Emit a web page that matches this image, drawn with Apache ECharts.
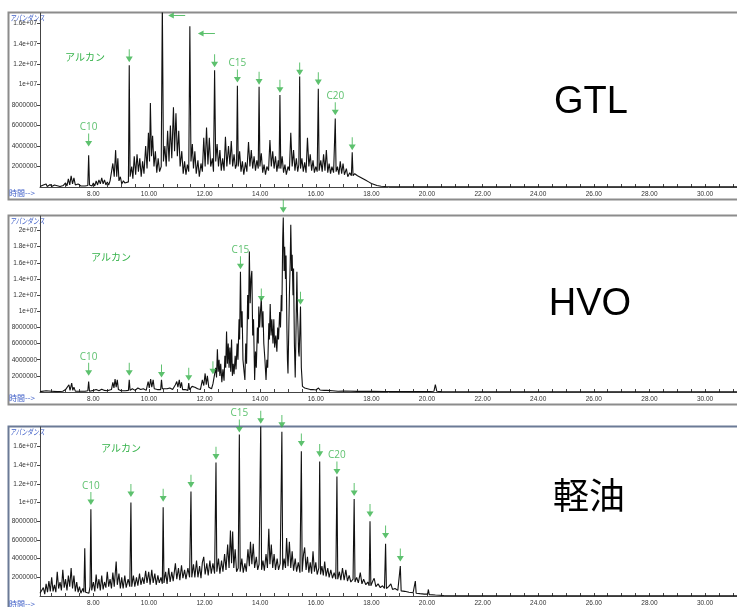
<!DOCTYPE html>
<html><head><meta charset="utf-8">
<script src="https://cdn.jsdelivr.net/npm/echarts@6/dist/echarts.min.js"></script>
<style>html,body{margin:0;padding:0;background:#fff}#c{width:737px;height:607px}</style>
</head><body><div id="c"></div>
<script>
// ---------- data (time in min, abundance in millions) ----------
const timeLabels = [8,10,12,14,16,18,20,22,24,26,28,30];
const timeTicks = [6.5,7,7.5,8,8.5,9,9.5,10,10.5,11,11.5,12,12.5,13,13.5,14,14.5,15,15.5,16,16.5,17,17.5,18,18.5,19,19.5,20,20.5,21,21.5,22,22.5,23,23.5,24,24.5,25,25.5,26,26.5,27,27.5,28,28.5,29,29.5,30,30.5,31];
const gtlYLabels = [2000000,4000000,6000000,8000000,10000000,12000000,14000000,16000000];
const hvoYLabels = [2000000,4000000,6000000,8000000,10000000,12000000,14000000,16000000,18000000,20000000];
const dieselYLabels = [2000000,4000000,6000000,8000000,10000000,12000000,14000000,16000000];
const sampleNames = ['GTL','HVO','軽油'];

const gtlTrace = [[6.08,0.05],[6.2,0.2],[6.24,0.05],[6.3,0.3],[6.34,0.05],[6.45,0.25],[6.5,0.05],[6.6,0.2],[6.65,0.05],[6.8,0.05],[6.92,0.15],[7.0,0.4],[7.05,0.1],[7.1,0.8],[7.15,0.2],[7.2,1.1],[7.25,0.3],[7.3,0.9],[7.35,0.2],[7.45,0.3],[7.55,0.1],[7.7,0.1],[7.8,0.15],[7.83,3.1],[7.86,0.2],[7.95,0.1],[8.0,0.4],[8.05,0.1],[8.1,0.6],[8.15,0.2],[8.2,0.7],[8.25,0.3],[8.3,0.9],[8.35,0.3],[8.4,0.7],[8.45,0.2],[8.5,0.5],[8.55,0.2],[8.6,0.6],[8.65,0.5],[8.7,2.3],[8.75,1.0],[8.8,3.6],[8.84,1.0],[8.88,2.8],[8.92,0.6],[8.97,1.0],[9.02,0.3],[9.08,0.6],[9.13,0.4],[9.2,0.3],[9.26,0.5],[9.29,11.9],[9.32,1.0],[9.38,2.0],[9.42,0.8],[9.47,3.0],[9.52,1.2],[9.57,3.2],[9.62,1.5],[9.67,2.8],[9.72,1.0],[9.77,2.5],[9.82,1.3],[9.88,4.0],[9.93,1.8],[9.98,5.3],[10.02,2.5],[10.05,8.2],[10.09,3.0],[10.13,5.0],[10.18,2.0],[10.23,3.5],[10.28,1.4],[10.33,2.8],[10.38,1.5],[10.44,2.0],[10.48,18.0],[10.52,2.5],[10.57,4.0],[10.62,2.0],[10.67,5.5],[10.72,2.5],[10.77,6.0],[10.82,2.8],[10.88,7.8],[10.92,3.5],[10.97,7.2],[11.02,3.0],[11.07,5.5],[11.12,2.0],[11.18,3.5],[11.23,1.3],[11.28,2.5],[11.33,1.2],[11.38,2.2],[11.43,1.5],[11.47,15.7],[11.51,2.5],[11.56,4.2],[11.6,1.8],[11.65,3.5],[11.7,1.3],[11.76,2.6],[11.81,1.0],[11.87,2.3],[11.92,1.5],[11.97,4.8],[12.02,2.0],[12.07,5.8],[12.12,2.2],[12.17,4.8],[12.22,2.0],[12.28,2.8],[12.32,1.5],[12.36,11.4],[12.4,2.5],[12.45,4.2],[12.5,2.0],[12.55,3.6],[12.6,1.6],[12.65,2.8],[12.7,1.6],[12.75,4.9],[12.8,2.0],[12.86,4.0],[12.91,2.2],[12.96,4.5],[13.01,2.0],[13.06,3.2],[13.11,1.8],[13.15,2.2],[13.18,9.9],[13.21,2.0],[13.26,3.5],[13.31,1.5],[13.36,2.5],[13.41,1.2],[13.47,2.4],[13.52,1.5],[13.58,4.4],[13.63,2.0],[13.68,3.6],[13.73,1.8],[13.78,3.0],[13.83,1.6],[13.88,2.6],[13.93,1.8],[13.96,9.8],[13.99,2.0],[14.04,3.3],[14.09,1.4],[14.14,2.2],[14.19,1.2],[14.24,2.0],[14.3,1.6],[14.35,4.6],[14.4,2.0],[14.45,3.5],[14.5,1.8],[14.55,3.0],[14.6,1.5],[14.65,2.6],[14.68,1.8],[14.71,9.0],[14.74,1.8],[14.79,3.0],[14.84,1.4],[14.89,2.2],[14.94,1.2],[15.0,2.0],[15.05,1.6],[15.1,5.3],[15.15,2.0],[15.2,3.6],[15.25,1.6],[15.3,2.8],[15.35,1.5],[15.39,2.2],[15.42,10.8],[15.45,1.8],[15.5,2.8],[15.55,1.5],[15.6,2.4],[15.65,1.4],[15.7,4.8],[15.75,2.0],[15.8,3.2],[15.85,1.6],[15.9,2.6],[15.95,1.4],[16.0,2.0],[16.05,1.5],[16.09,9.6],[16.12,1.6],[16.18,2.6],[16.23,1.5],[16.28,3.2],[16.33,1.6],[16.38,3.6],[16.43,1.4],[16.48,2.3],[16.53,1.3],[16.58,2.0],[16.64,1.4],[16.7,6.7],[16.73,1.5],[16.78,2.0],[16.83,1.2],[16.88,2.5],[16.93,1.3],[16.98,2.3],[17.03,1.2],[17.1,1.8],[17.15,1.0],[17.22,1.4],[17.28,1.1],[17.31,3.4],[17.34,1.1],[17.4,1.3],[17.5,1.1],[17.6,0.95],[17.7,0.8],[17.8,0.65],[17.9,0.5],[18.0,0.35],[18.1,0.25],[18.2,0.15],[18.35,0.08],[18.5,0.05],[18.7,0.02],[19.0,0.01],[31.15,0.01]];

const hvoTrace = [[6.08,0.05],[6.3,0.15],[6.35,0.03],[6.5,0.1],[6.55,0.03],[6.7,0.05],[6.9,0.1],[7.0,0.3],[7.05,0.1],[7.12,0.9],[7.16,0.2],[7.22,1.1],[7.26,0.2],[7.3,0.6],[7.35,0.1],[7.5,0.1],[7.7,0.1],[7.8,0.15],[7.83,1.3],[7.86,0.1],[8.0,0.2],[8.1,0.3],[8.2,0.15],[8.3,0.35],[8.4,0.2],[8.5,0.15],[8.65,0.3],[8.7,1.2],[8.74,0.5],[8.78,1.6],[8.82,0.6],[8.86,1.5],[8.9,0.3],[9.0,0.15],[9.15,0.15],[9.26,0.2],[9.29,1.5],[9.32,0.2],[9.4,0.4],[9.5,0.2],[9.6,0.5],[9.7,0.3],[9.8,0.4],[9.9,0.2],[9.97,1.3],[10.01,0.5],[10.06,1.6],[10.1,0.6],[10.15,1.5],[10.19,0.4],[10.3,0.3],[10.42,0.3],[10.45,1.5],[10.48,0.4],[10.55,0.6],[10.65,0.4],[10.75,0.5],[10.85,0.3],[10.95,0.9],[11.0,1.3],[11.04,0.6],[11.09,1.5],[11.13,0.5],[11.17,1.2],[11.21,0.3],[11.3,0.3],[11.4,0.2],[11.43,1.1],[11.46,0.3],[11.55,0.7],[11.65,0.6],[11.75,0.4],[11.85,0.3],[11.92,1.5],[11.97,0.8],[12.02,2.3],[12.06,0.9],[12.1,2.0],[12.15,0.6],[12.2,0.5],[12.25,0.4],[12.3,1.0],[12.35,0.9],[12.4,3.0],[12.43,1.8],[12.46,5.3],[12.49,2.5],[12.52,4.0],[12.55,2.0],[12.58,3.5],[12.62,1.2],[12.66,2.8],[12.7,1.4],[12.73,4.5],[12.76,3.0],[12.79,7.5],[12.82,3.5],[12.85,6.0],[12.88,3.0],[12.91,5.5],[12.94,2.5],[12.97,6.5],[13.0,2.0],[13.03,3.5],[13.06,2.2],[13.1,4.5],[13.13,2.8],[13.17,6.0],[13.2,4.0],[13.24,9.0],[13.26,6.5],[13.29,14.9],[13.32,8.0],[13.35,10.0],[13.38,4.0],[13.42,2.5],[13.45,1.5],[13.48,6.0],[13.51,3.5],[13.55,12.0],[13.58,9.0],[13.61,17.4],[13.64,11.0],[13.67,14.0],[13.7,15.0],[13.73,7.0],[13.76,9.0],[13.8,1.5],[13.83,5.0],[13.86,3.0],[13.9,8.0],[13.93,6.0],[13.95,10.6],[13.98,8.0],[14.01,10.0],[14.04,11.6],[14.07,8.0],[14.1,10.0],[14.13,6.0],[14.17,4.0],[14.21,1.5],[14.24,4.0],[14.27,3.0],[14.31,8.5],[14.33,6.5],[14.36,10.9],[14.39,7.0],[14.42,9.0],[14.46,6.0],[14.49,9.0],[14.52,5.5],[14.56,7.0],[14.6,5.0],[14.63,8.0],[14.66,6.5],[14.7,9.9],[14.73,8.0],[14.76,12.0],[14.78,10.0],[14.81,19.0],[14.83,21.6],[14.86,15.0],[14.88,18.0],[14.91,14.0],[14.93,16.9],[14.96,8.0],[14.98,4.0],[15.0,2.3],[15.03,8.0],[15.05,12.0],[15.08,16.0],[15.1,20.7],[15.13,15.0],[15.15,17.0],[15.18,12.0],[15.2,15.3],[15.23,6.0],[15.26,1.8],[15.29,8.0],[15.32,14.9],[15.34,10.0],[15.36,8.0],[15.38,5.0],[15.4,4.4],[15.43,8.0],[15.45,10.6],[15.48,3.0],[15.52,0.7],[15.6,0.5],[15.7,0.4],[15.8,0.3],[15.9,0.3],[16.0,0.25],[16.1,0.5],[16.15,0.25],[16.3,0.2],[16.35,0.4],[16.4,0.2],[16.6,0.15],[16.8,0.1],[17.0,0.12],[17.5,0.08],[18.0,0.08],[18.5,0.06],[19.0,0.06],[19.5,0.05],[20.0,0.05],[20.25,0.1],[20.3,0.9],[20.35,0.1],[20.5,0.05],[21.0,0.03],[22.0,0.02],[31.15,0.02]];

const dieselTrace = [[6.08,0.3],[6.15,0.4],[6.2,0.9],[6.25,0.2],[6.3,1.3],[6.35,0.4],[6.4,1.6],[6.45,0.5],[6.5,2.0],[6.55,0.5],[6.6,1.2],[6.65,0.4],[6.7,2.6],[6.75,0.8],[6.8,1.5],[6.85,0.6],[6.9,2.8],[6.95,0.9],[7.0,1.8],[7.05,0.6],[7.1,2.2],[7.15,1.0],[7.2,3.0],[7.25,0.8],[7.3,2.2],[7.35,0.5],[7.4,1.5],[7.45,0.4],[7.5,1.0],[7.55,0.3],[7.62,0.8],[7.66,0.4],[7.69,5.1],[7.72,0.4],[7.78,0.6],[7.84,0.3],[7.88,1.0],[7.91,9.3],[7.94,0.6],[8.0,1.5],[8.05,0.5],[8.1,2.3],[8.15,0.8],[8.2,1.8],[8.25,0.6],[8.3,2.2],[8.35,0.7],[8.4,1.5],[8.45,0.9],[8.5,2.6],[8.55,1.0],[8.6,1.8],[8.65,0.8],[8.7,2.5],[8.75,1.0],[8.82,3.7],[8.86,1.2],[8.92,2.4],[8.97,0.8],[9.02,2.0],[9.07,0.8],[9.13,2.2],[9.18,0.9],[9.25,1.8],[9.31,1.0],[9.35,10.0],[9.38,1.0],[9.44,2.2],[9.49,1.0],[9.55,2.0],[9.6,1.1],[9.66,2.4],[9.71,1.2],[9.77,2.0],[9.82,1.3],[9.88,2.7],[9.93,1.4],[9.99,2.6],[10.04,1.2],[10.1,2.8],[10.15,1.4],[10.21,2.4],[10.26,1.2],[10.32,2.2],[10.37,1.4],[10.43,2.0],[10.48,1.3],[10.51,9.5],[10.54,1.4],[10.6,2.6],[10.65,1.3],[10.71,3.0],[10.76,1.5],[10.82,2.6],[10.87,1.6],[10.95,3.5],[11.0,1.8],[11.06,3.0],[11.11,1.7],[11.17,3.3],[11.22,1.9],[11.28,2.8],[11.33,1.8],[11.4,3.0],[11.46,2.0],[11.51,11.2],[11.54,2.0],[11.6,3.4],[11.65,2.0],[11.71,3.8],[11.76,2.0],[11.82,3.2],[11.87,1.9],[11.92,3.6],[11.97,4.2],[12.02,2.3],[12.08,3.5],[12.13,2.2],[12.19,3.8],[12.24,2.4],[12.3,3.5],[12.36,2.4],[12.41,14.3],[12.44,2.6],[12.5,4.0],[12.55,2.4],[12.61,3.8],[12.66,2.6],[12.72,4.5],[12.77,2.8],[12.83,5.5],[12.88,3.0],[12.93,7.0],[12.97,3.5],[13.01,6.9],[13.05,3.0],[13.1,5.0],[13.15,2.6],[13.21,3.0],[13.25,17.3],[13.28,2.6],[13.34,4.0],[13.39,2.5],[13.45,3.5],[13.5,2.6],[13.56,5.0],[13.61,3.2],[13.65,5.8],[13.7,3.4],[13.75,5.6],[13.8,3.0],[13.86,4.2],[13.91,2.8],[13.96,3.4],[14.02,18.5],[14.05,2.8],[14.1,3.8],[14.15,2.7],[14.21,4.5],[14.26,3.0],[14.31,7.2],[14.35,3.4],[14.4,5.5],[14.45,3.0],[14.5,4.5],[14.55,2.8],[14.61,4.0],[14.66,2.8],[14.72,3.5],[14.78,17.6],[14.81,2.8],[14.86,4.0],[14.91,3.0],[14.95,6.2],[15.0,3.2],[15.05,5.8],[15.1,3.0],[15.15,4.8],[15.2,2.7],[15.26,4.0],[15.31,2.6],[15.37,3.6],[15.43,2.5],[15.48,15.5],[15.51,2.6],[15.56,4.5],[15.6,5.2],[15.65,2.8],[15.7,4.2],[15.75,2.5],[15.8,3.6],[15.85,2.4],[15.9,4.8],[15.95,2.6],[16.0,3.6],[16.05,2.3],[16.11,3.0],[16.14,14.4],[16.17,2.3],[16.22,3.2],[16.27,2.2],[16.32,3.7],[16.37,2.1],[16.43,3.0],[16.48,2.0],[16.54,2.8],[16.6,1.9],[16.66,2.5],[16.72,1.8],[16.76,12.8],[16.79,1.8],[16.85,2.6],[16.9,1.7],[16.96,3.0],[17.02,1.7],[17.08,2.8],[17.14,1.6],[17.2,2.2],[17.26,1.5],[17.34,1.8],[17.38,10.4],[17.41,1.5],[17.47,2.0],[17.53,1.4],[17.6,2.5],[17.66,1.3],[17.72,1.8],[17.8,1.2],[17.87,1.5],[17.92,1.1],[17.95,8.0],[17.98,1.1],[18.05,1.6],[18.1,1.9],[18.16,1.0],[18.24,1.3],[18.32,0.9],[18.4,1.1],[18.47,0.8],[18.51,5.6],[18.54,0.8],[18.62,1.0],[18.7,1.3],[18.76,0.7],[18.85,0.8],[18.95,0.6],[19.01,0.6],[19.04,3.2],[19.07,0.55],[19.2,0.5],[19.35,0.4],[19.5,0.35],[19.55,0.35],[19.58,1.6],[19.61,0.3],[19.75,0.25],[19.9,0.2],[20.02,0.2],[20.05,0.7],[20.08,0.15],[20.3,0.1],[20.6,0.06],[21.0,0.03],[21.5,0.01],[31.15,0.01]];

// arrow tips: [time, abundance (millions), label]
const gtlArrows = [[7.83,3.96,'C10'],[9.29,12.2,''],[12.36,11.7,''],[13.18,10.2,'C15'],[13.96,10.0,''],[14.71,9.2,''],[15.42,10.9,''],[16.09,9.95,''],[16.7,7.0,'C20'],[17.31,3.6,'']];
const gtlSideArrows = [[10.69,16.75],[11.76,15.0]];
const hvoArrows = [[7.83,2.0,'C10'],[9.29,2.0,''],[10.45,1.8,''],[11.43,1.4,''],[12.3,2.2,''],[13.29,15.2,'C15'],[14.04,11.2,''],[14.83,22.2,''],[15.45,10.8,'']];
const dieselArrows = [[7.91,9.75,'C10'],[9.35,10.6,''],[10.51,10.1,''],[11.51,11.6,''],[12.41,14.6,''],[13.25,17.5,'C15'],[14.02,18.45,''],[14.78,18.0,''],[15.48,16.0,''],[16.14,14.9,''],[16.76,13.0,'C20'],[17.38,10.7,''],[17.95,8.45,''],[18.51,6.15,''],[19.04,3.7,'']];

// ---------- chart ----------
const M = 1e6;
const GREEN = '#35b24a';
const xMin = 6.08, xMax = 31.15;
const yMaxM = [17.0, 21.8, 18.1];
const gridBoxes = [{top:13,height:174},{top:216,height:176},{top:427,height:171}];
const traces = [gtlTrace, hvoTrace, dieselTrace];
const arrows = [gtlArrows, hvoArrows, dieselArrows];
const yLabelSets = [gtlYLabels, hvoYLabels, dieselYLabels];
const arrowDown = 'path://M4.3,0 L5.7,0 L5.7,8 L10,8 L5,14 L0,8 L4.3,8 Z';
const arrowLeft = 'path://M0,3.5 L6,0 L6,2.9 L18,2.9 L18,4.1 L6,4.1 L6,7 Z';

function yFmt(v){ return v >= 1e7 ? (v/1e7) + 'e+07' : String(Math.round(v)); }

const chart = echarts.init(document.getElementById('c'), null, {renderer:'canvas'});
const grid = [], xAxis = [], yAxis = [], series = [];
const axisFont = {fontSize:6.5, color:'#333', fontFamily:'Liberation Sans'};
for (let i = 0; i < 3; i++) {
  grid.push({left:40, right:0, top:gridBoxes[i].top, height:gridBoxes[i].height, show:false});
  xAxis.push({gridIndex:i, type:'value', min:xMin, max:xMax,
    axisLine:{show:true, onZero:false, lineStyle:{color:'#444', width:1}},
    axisTick:{show:true, inside:true, length:3, customValues:timeTicks, lineStyle:{color:'#444'}},
    axisLabel:Object.assign({customValues:timeLabels, formatter:v=>v.toFixed(2), margin:4}, axisFont),
    splitLine:{show:false}});
  yAxis.push({gridIndex:i, type:'value', min:0, max:yMaxM[i]*M,
    axisLine:{show:true, lineStyle:{color:'#444', width:1}},
    axisTick:{show:true, length:3, customValues:yLabelSets[i], lineStyle:{color:'#444'}},
    axisLabel:Object.assign({customValues:yLabelSets[i], formatter:yFmt, margin:3}, axisFont),
    splitLine:{show:false}});
  series.push({type:'line', xAxisIndex:i, yAxisIndex:i, symbol:'none', clip:true,
    data:traces[i].map(p=>[p[0], p[1]*M]),
    lineStyle:{color:'#111', width:1.1}, z:2});
  series.push({type:'scatter', xAxisIndex:i, yAxisIndex:i, clip:false, z:5,
    symbol:arrowDown, symbolSize:[7,13], symbolOffset:[0,'-50%'],
    itemStyle:{color:GREEN},
    data:arrows[i].map(a=>({value:[a[0], a[1]*M], label:{show:!!a[2], formatter:a[2]}})),
    label:{position:'top', distance:1, color:GREEN, fontSize:10, fontFamily:'Open Sans'}});
}
series.push({type:'scatter', xAxisIndex:0, yAxisIndex:0, clip:false, z:5,
  symbol:arrowLeft, symbolSize:[17,6], symbolOffset:['50%',0], itemStyle:{color:GREEN},
  data:gtlSideArrows.map(a=>[a[0], a[1]*M])});

const frames = [{y:12,h:187},{y:215,h:189},{y:426,h:190}];
const graphic = [];
frames.forEach((f,i)=>{
  graphic.push({type:'rect', shape:{x:8.5, y:f.y+0.5, width:740, height:f.h}, style:{fill:null, stroke:i===2?'#6b7a96':'#8c8c8c', lineWidth:2}, z:-1});
});
const gridTops = [13,216,427], gridBottoms = [187,392,598];
const alkanePos = [[85,57],[111,257],[121,448]];
const namePos = [[591,103],[590,305],[589,495]];
for (let i = 0; i < 3; i++) {
  graphic.push({type:'text', x:10, y:gridTops[i]+1, scaleX:0.72, style:{text:'アバンダンス', fontSize:8, fill:'#3f5fc8', fontFamily:'Noto Sans CJK JP', fontStyle:'italic'}});
  graphic.push({type:'text', x:9, y:gridBottoms[i]+2, style:{text:'時間-->', fontSize:8, fill:'#3f5fc8', fontFamily:'Noto Sans CJK JP'}});
  graphic.push({type:'text', x:alkanePos[i][0], y:alkanePos[i][1], style:{text:'アルカン', fontSize:10, fill:GREEN, fontFamily:'Noto Sans CJK JP', align:'center', verticalAlign:'middle'}});
  graphic.push({type:'text', x:namePos[i][0], y:namePos[i][1], style:{text:sampleNames[i], fontSize:i===2?36:38, fill:'#000', fontFamily:i===2?'Noto Sans CJK JP':'Liberation Sans', align:'center', verticalAlign:'middle'}});
}

chart.setOption({animation:false, backgroundColor:'#fff', grid, xAxis, yAxis, series, graphic});
</script></body></html>
